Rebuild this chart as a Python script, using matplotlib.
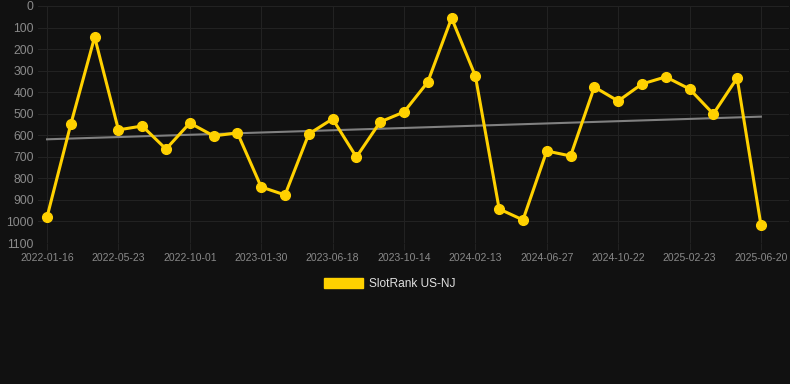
import numpy as np
import matplotlib.pyplot as plt
from matplotlib.patches import Patch

plt.rcParams['font.family'] = ['Liberation Sans', 'DejaVu Sans']

# every third point carries a date label on the axis
tick_dates = ['2022-01-16', '2022-05-23', '2022-10-01', '2023-01-30', '2023-06-18',
              '2023-10-14', '2024-02-13', '2024-06-27', '2024-10-22', '2025-02-23',
              '2025-06-20']
rank = [979, 548, 144, 575, 557, 664, 543, 603, 589, 840, 877, 594, 524, 701, 538,
        492, 353, 56, 325, 942, 993, 673, 696, 376, 441, 362, 329, 385, 501, 334, 1016]
series_name = 'SlotRank US-NJ'

bg = '#111111'
gold = '#FFD100'

x = np.arange(len(rank))
slope, icpt = np.polyfit(x, rank, 1)

fig = plt.figure(figsize=(7.9, 3.84), dpi=100, facecolor=bg)
ax = fig.add_axes([38 / 790, 1 - 243 / 384, 751 / 790, 237 / 384], facecolor=bg)

ax.plot(x, slope * x + icpt, color='#808080', lw=1.5, zorder=2)
ax.plot(x, rank, color=gold, lw=2.2, marker='o', ms=7, zorder=3)

ax.set_xlim(-0.38, 31.18)
ax.set_ylim(1100, 0)
ax.set_yticks(range(0, 1101, 100))
ax.set_xticks(x[::3])
ax.set_xticklabels(tick_dates)

ax.grid(True, color='#222222', lw=0.8)
ax.set_axisbelow(True)
for s in ax.spines.values():
    s.set_visible(False)
ax.tick_params(axis='y', length=0, pad=3, labelsize=8.8, labelcolor='#8a8a8a')
ax.tick_params(axis='x', length=5, color='#222222', pad=2, labelsize=7.5, labelcolor='#8a8a8a')

fig.legend(handles=[Patch(facecolor=gold, edgecolor=gold)], labels=[series_name],
           loc='center', bbox_to_anchor=(390 / 790, 1 - 284 / 384), frameon=False,
           handlelength=3.3, handleheight=1.0, handletextpad=0.5,
           fontsize=8.6, labelcolor='#e0e0e0')

fig.savefig('out.png', dpi=100, facecolor=bg)
